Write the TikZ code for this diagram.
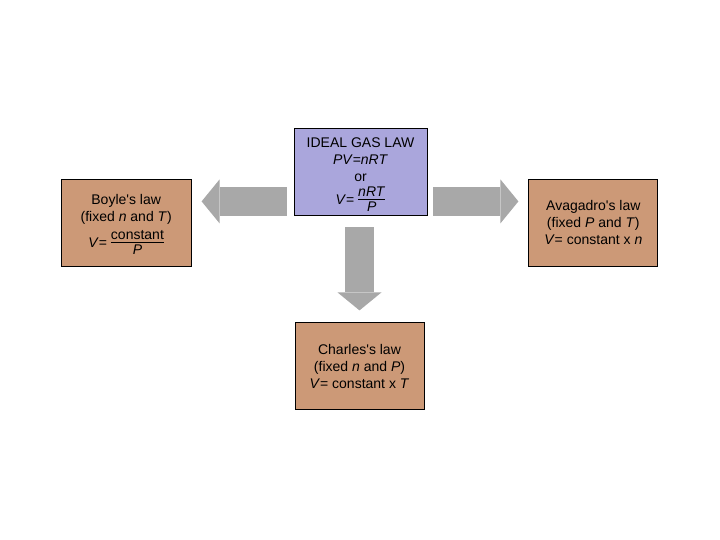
\documentclass[tikz,border=0pt]{standalone}
\usepackage{fontspec}
\setmainfont{Liberation Sans}
\usetikzlibrary{arrows.meta, positioning, calc}
\definecolor{lawbrown}{HTML}{CC9977}
\definecolor{lawviolet}{HTML}{AAA6DC}
\definecolor{flowgray}{HTML}{A8A8A8}
% stacked fraction in text font
\newcommand{\lawfrac}[2]{$\vcenter{\hbox{\renewcommand{\arraystretch}{0.9}%
  \begin{tabular}{@{}c@{}}#1\\[-2pt]\hline\rule{0pt}{12pt}#2\end{tabular}}}$}

\begin{document}
\begin{tikzpicture}[x=1pt, y=1pt,
    law/.style={rectangle, draw=black, fill=#1, line width=0.8pt,
                minimum width=130pt, minimum height=87pt, align=center,
                inner sep=2pt, font=\fontsize{14}{17}\selectfont},
    fatarrow/.style={-{Triangle[width=44pt, length=18pt, line width=0pt]},
                     line width=29pt, flowgray}
  ]
    \useasboundingbox (0,0) rectangle (720,-540);

    \node[law=lawviolet, minimum width=133pt] (ideal) at (360.5,-171.5)
      {IDEAL GAS LAW\\\textit{PV}=\textit{nRT}\\or\\[3pt]
       \raisebox{0pt}[\height][0pt]{\textit{V}= \lawfrac{\textit{nRT}}{\textit{P}}}};
    \node[law=lawbrown, left=102pt of ideal, yshift=-51pt] (boyle)
      {\rule{0pt}{19pt}Boyle\textquotesingle s law\\(fixed \textit{n} and \textit{T})\\[3pt]
       \textit{V}= \lawfrac{constant}{\textit{P}}};
    \node[law=lawbrown, minimum width=129pt, right=101pt of ideal, yshift=-51pt] (avogadro)
      {Avagadro\textquotesingle s law\\(fixed \textit{P} and \textit{T})\\\textit{V}= constant x \textit{n}};
    \node[law=lawbrown, minimum width=129pt, below=107pt of ideal, xshift=-1pt] (charles)
      {Charles\textquotesingle s law\\(fixed \textit{n} and \textit{P})\\\textit{V}= constant x \textit{T}};

    \draw[fatarrow] ($(ideal.south west)+(-7,14)$) -- ($(ideal.south west -| boyle.east)+(10,14)$);
    \draw[fatarrow] ($(ideal.south east)+(6,14)$) -- ($(ideal.south east -| avogadro.west)+(-10,14)$);
    \draw[fatarrow] ($(charles.north |- ideal.south)+(0,-12)$) -- ($(charles.north)+(0,12)$);
  \end{tikzpicture}
\end{document}
